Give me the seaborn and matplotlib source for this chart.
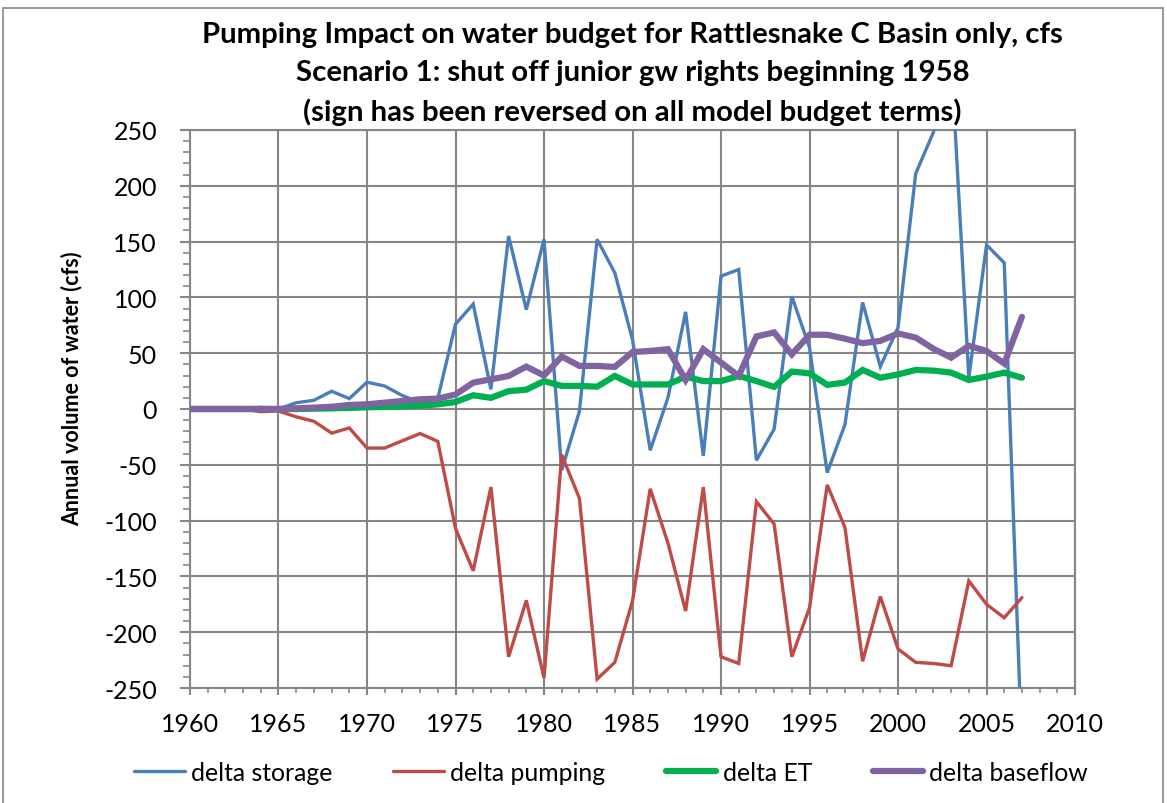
#!/usr/bin/env python3
"""Pumping impact on the Rattlesnake C basin water budget, scenario 1."""

import pandas as pd
import matplotlib.pyplot as plt
import matplotlib.patches as mpatches
from matplotlib.ticker import MultipleLocator
import seaborn as sns

# ---- data (cfs) ----
years = list(range(1960, 2008))

delta_storage = [0, 0, 0, 0, 1.5, 0, 5.6, 7.8, 15.9, 9.3,
                 24, 20.6, 12, 6, 9.5, 76, 94, 17.6, 155, 89,
                 152, -55, -2, 152, 122, 62, -37, 10, 87, -42,
                 119, 125, -46, -18, 101, 55, -57, -14, 95.5, 38,
                 73, 211, 248, 316, 28, 147, 131, -307]

delta_pumping = [0, 0, 0, 0, -2.4, -1.8, -7, -11, -21.6, -17,
                 -35, -35, -28.4, -22, -29, -107, -145, -70, -222, -171.5,
                 -241, -41, -80, -242, -227, -172, -71.5, -120, -181, -70,
                 -222, -228, -83, -103, -222, -178, -68, -106, -226, -168,
                 -215, -227, -228, -230, -154, -175, -187, -169]

delta_et = [0, 0, 0, 0, 0, 0, 0, 0.3, 0.6, 1,
            1.5, 2, 2.5, 3, 4.2, 6.3, 12.3, 10, 16, 17.3,
            25, 20.7, 20.7, 20, 29.6, 22, 22, 22, 29, 25,
            25, 29.6, 25, 19.8, 33.5, 32, 21.6, 23.7, 35, 28,
            31, 35, 34.4, 32.6, 26, 29, 32.6, 28]

delta_baseflow = [0, 0, 0, 0, 0, 0, 0.6, 1.2, 2, 3.6,
                  4.2, 5.7, 7.2, 8.7, 9.3, 13, 23.6, 26.6, 29.6, 38,
                  30, 47, 38.6, 38.6, 37.7, 51, 52, 53.6, 26, 53.6,
                  41.6, 29.6, 65, 68.6, 49, 66.5, 66.5, 63, 59, 61,
                  67.7, 64, 54, 46, 56.6, 52, 40.7, 82.6]

series_names = ["delta storage", "delta pumping", "delta ET", "delta baseflow"]
series_colors = ["#4A7EBB", "#BE4B48", "#00B050", "#8064A2"]
series_widths = [2.4, 2.4, 4.5, 4.5]

title_lines = [
    "Pumping Impact on water budget for Rattlesnake C Basin only, cfs",
    "Scenario 1: shut off junior gw rights beginning 1958",
    "(sign has been reversed on all model budget terms)",
]


def main():
    sns.set_style("white")
    plt.rcParams["font.family"] = ["Lato", "DejaVu Sans"]
    plt.rcParams["axes.unicode_minus"] = False
    plt.rcParams["text.color"] = "black"

    df = pd.DataFrame({
        "year": years,
        "delta storage": delta_storage,
        "delta pumping": delta_pumping,
        "delta ET": delta_et,
        "delta baseflow": delta_baseflow,
    })
    long_df = df.melt(id_vars="year", var_name="term", value_name="cfs")

    fig = plt.figure(figsize=(11.67, 8.04), dpi=100)
    ax = fig.add_axes([0.1628, 0.1430, 0.9212 - 0.1628, 0.8371 - 0.1430])

    grid_color = "#868686"
    for name, color, lw in zip(series_names, series_colors, series_widths):
        sns.lineplot(data=long_df[long_df["term"] == name], x="year", y="cfs",
                     color=color, linewidth=lw, label=name, ax=ax,
                     solid_joinstyle="miter", zorder=3)

    ax.set_xlim(1960, 2010)
    ax.set_ylim(-250, 250)
    ax.xaxis.set_major_locator(MultipleLocator(5))
    ax.xaxis.set_minor_locator(MultipleLocator(1))
    ax.yaxis.set_major_locator(MultipleLocator(50))
    ax.yaxis.set_minor_locator(MultipleLocator(10))

    ax.grid(which="major", color=grid_color, linewidth=1.5)
    ax.set_axisbelow(True)
    for sp in ax.spines.values():
        sp.set_color(grid_color)
        sp.set_linewidth(1.5)

    ax.tick_params(left=True, bottom=True, which="both")
    ax.tick_params(axis="both", which="both", direction="out", color=grid_color,
                   labelsize=18, labelcolor="black")
    ax.tick_params(axis="y", which="major", length=7.2, width=1.5, pad=16.5)
    ax.tick_params(axis="y", which="minor", length=5, width=1.2)
    ax.tick_params(axis="x", which="major", length=5, width=1.5, pad=12.5)
    ax.tick_params(axis="x", which="minor", length=3.6, width=1.2)

    ax.set_xlabel("")
    ax.set_ylabel("Annual volume of water (cfs)", fontsize=15.5, fontweight="bold",
                  color="black")
    ax.yaxis.set_label_coords(-0.121, 0.538)

    ax.set_title("\n".join(title_lines), fontsize=21.2, fontweight="bold",
                 color="black", linespacing=1.56, pad=7)

    ax.legend(loc="center", bbox_to_anchor=(0.476, -0.1505), ncol=4,
              frameon=False, fontsize=17.8, handlelength=2.05, handletextpad=0.25,
              columnspacing=2.45)

    # thin frame around the whole chart, as in the pasted figure
    fig.patches.append(mpatches.Rectangle((3 / 1167, -0.05), 1160 / 1167, 1.05 - 9 / 804,
                                          transform=fig.transFigure, fill=False,
                                          edgecolor="#888888", linewidth=1.2))

    fig.savefig("out.png", dpi=100)
    plt.close(fig)


if __name__ == "__main__":
    main()
